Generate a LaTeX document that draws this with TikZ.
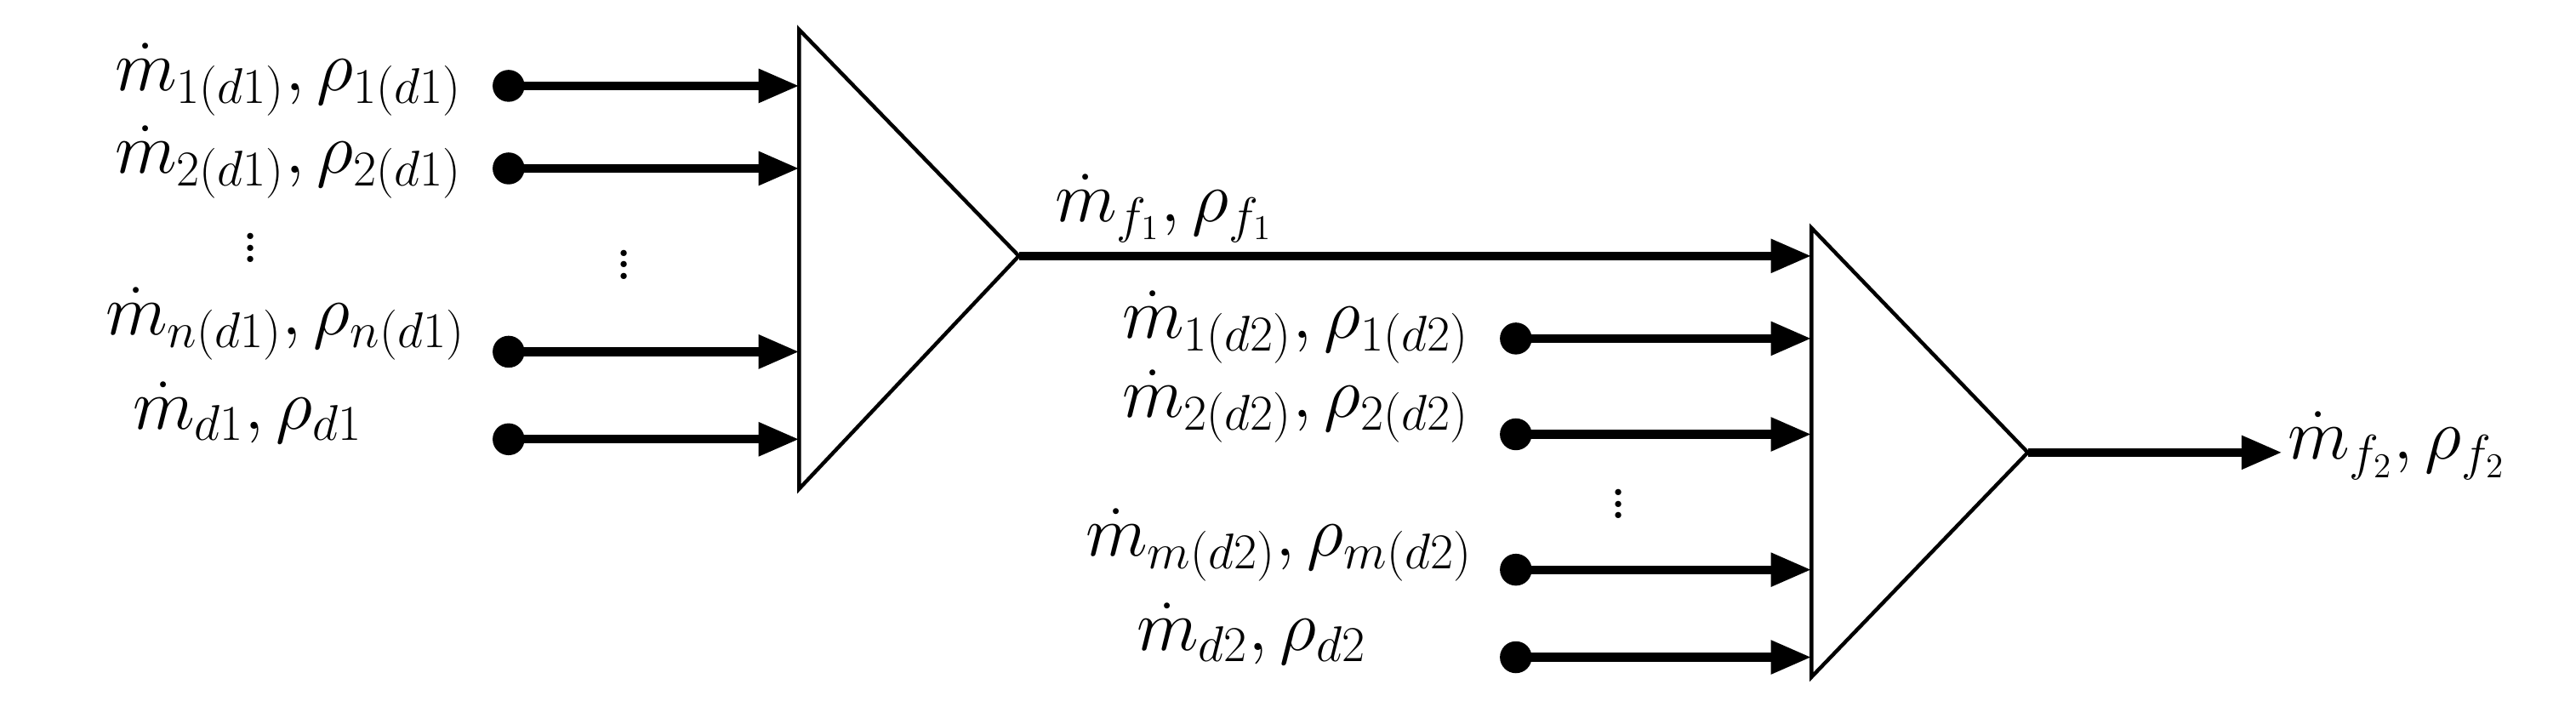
\documentclass[tikz,border=0pt]{standalone}
\usetikzlibrary{arrows.meta}
\begin{document}
\begin{tikzpicture}[x=0.02cm,y=-0.02cm,
  lbl/.style={font=\fontsize{26}{30}\selectfont, inner sep=0pt},
  arr/.style={line width=3pt,-{Triangle[length=14pt,width=11pt]}},
  tri/.style={line width=1.3pt},
  dot/.style={circle,fill=black,inner sep=0pt,minimum size=11pt}]
\useasboundingbox (0,0) rectangle (1560,438);
% triangles
\draw[tri] (484,18) -- (617,155) coordinate (t1c) -- (484,296) -- cycle;
\draw[tri] (1097,138) -- (1228,274) coordinate (t2c) -- (1097,410) -- cycle;
% inputs 1
\foreach \n/\y in {a/52,b/102,c/213,d/266}{
  \node[dot] (p\n) at (308,\y) {};
  \coordinate (q\n) at (484,\y);
  \draw[arr] (p\n.center) -- (q\n);
}
\node[lbl,anchor=east] (la) at (280,48) {$\dot m_{1(d1)},\rho_{1(d1)}$};
\node[lbl,anchor=east] (lb) at (280,98) {$\dot m_{2(d1)},\rho_{2(d1)}$};
\node[lbl,anchor=east] (lc) at (282,196) {$\dot m_{n(d1)},\rho_{n(d1)}$};
\node[lbl] (ld) at (150,250) {$\dot m_{d1},\rho_{d1}$};
\node[lbl] (v1) at (152,145) {$\vdots$};
\node[lbl] (v2) at (378,155) {$\vdots$};
% link
\coordinate (t2in) at (1097,155);
\draw[arr] (t1c) -- (t2in);
\node[lbl] (lf1) at (705,126) {$\dot m_{f_1},\rho_{f_1}$};
% inputs 2
\foreach \n/\y in {e/205,f/263,g/345,h/398}{
  \node[dot] (p\n) at (918,\y) {};
  \coordinate (q\n) at (1097,\y);
  \draw[arr] (p\n.center) -- (q\n);
}
\node[lbl,anchor=east] (le) at (890,198) {$\dot m_{1(d2)},\rho_{1(d2)}$};
\node[lbl,anchor=east] (lf) at (890,246) {$\dot m_{2(d2)},\rho_{2(d2)}$};
\node[lbl,anchor=east] (lg) at (892,330) {$\dot m_{m(d2)},\rho_{m(d2)}$};
\node[lbl] (lh) at (758,384) {$\dot m_{d2},\rho_{d2}$};
\node[lbl] (v3) at (980,300) {$\vdots$};
% output
\coordinate (out) at (1382,274);
\draw[arr] (t2c) -- (out);
\node[lbl,anchor=west] (lo) at (1385,270) {$\dot m_{f_2},\rho_{f_2}$};
\end{tikzpicture}
\end{document}
